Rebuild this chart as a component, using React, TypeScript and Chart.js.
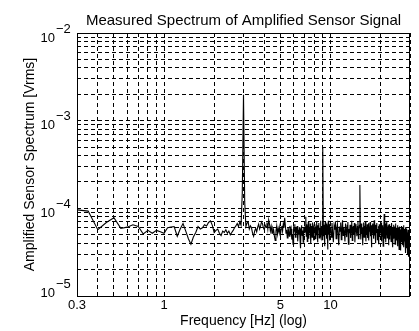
import React, { useEffect, useRef } from "react";
import { Chart, registerables } from "chart.js";

Chart.register(...registerables);

// ---- text ----
const TITLE = "Measured Spectrum of Amplified Sensor Signal";
const X_TITLE = "Frequency [Hz] (log)";
const Y_TITLE = "Amplified Sensor Spectrum [Vrms]";

// ---- axes ----
const X_MIN = 0.3;
const X_MAX = 30;
const Y_MIN = 1e-5;
const Y_MAX = 1e-2;

const xGridValues = [0.3, 0.4, 0.5, 0.6, 0.7, 0.8, 0.9, 1, 2, 3, 4, 5, 6, 7, 8, 9, 10, 20, 30];
const xTickLabelValues = [0.3, 1, 5, 10];
const xTickLabels = ["0.3", "1", "5", "10"];

const yGridValues = [
  1e-5, 2e-5, 3e-5, 4e-5, 5e-5, 6e-5, 7e-5, 8e-5, 9e-5,
  1e-4, 2e-4, 3e-4, 4e-4, 5e-4, 6e-4, 7e-4, 8e-4, 9e-4,
  1e-3, 2e-3, 3e-3, 4e-3, 5e-3, 6e-3, 7e-3, 8e-3, 9e-3,
  1e-2,
];
const yDecadeExponents = [-5, -4, -3, -2];

// ---- spectrum data (values in microvolts rms, FFT bins) ----
const FINE_STEP_HZ = 0.05;
const COARSE_STEP_HZ = 0.1;
const UV = 1e-6;

// 0.30 .. 2.90 Hz
const LOW_START_HZ = 0.3;
const lowBandUv = [
  96, 93, 57, 69, 78, 59, 61, 65, 62, 51, 56, 52, 56, 54, 52,
  60, 61, 62, 48, 58, 67, 55, 45, 39, 47, 53, 62, 58, 60, 65, 63, 69, 72, 64, 53,
  56, 58, 52, 49, 55, 53, 57, 52, 55, 50, 53, 56, 60, 63, 67, 62, 70, 64,
];

// 2.95 .. 3.05 Hz (fundamental)
const PEAK_START_HZ = 2.95;
const peak3HzUv = [150, 1980, 120];

// 3.10 .. 9.95 Hz (includes 9 Hz harmonic)
const MID_START_HZ = 3.1;
const midBandUv = [
  62, 68, 70, 58, 63, 60, 52, 48, 55, 59, 54, 61, 66, 58, 63, 70, 67, 60,
  57, 64, 61, 69, 58, 74, 66, 55, 62, 52, 60, 57, 48, 43, 55, 63, 51, 59, 54, 61,
  50, 58, 63, 55, 66, 60, 78, 64, 52, 57, 46, 61, 55, 48, 63, 53, 58, 44, 51, 39,
  59, 55, 66, 47, 60, 52, 63, 42, 57, 50, 61, 45, 35, 58, 64, 49, 56, 41, 60, 53,
  62, 54, 80, 48, 66, 42, 58, 70, 45, 61, 52, 67, 40, 57, 63, 47, 69, 54, 43, 60,
  56, 66, 45, 62, 50, 71, 53, 41, 64, 57, 68, 46, 60, 52, 72, 48, 63, 55, 44, 66,
  500,
  58, 48, 65, 37, 60, 70, 51, 63, 45, 67, 54, 34, 61, 72, 50, 58, 43, 66, 55,
];

// 10.0 .. 30.0 Hz (includes 15 Hz and 21 Hz harmonics)
const HIGH_START_HZ = 10;
const highBandUv = [
  60, 47, 68, 52, 41, 63, 57, 71, 45, 59,
  66, 50, 38, 62, 55, 69, 44, 58, 73, 49,
  61, 53, 42, 67, 56, 47, 64, 70, 39, 58,
  52, 65, 46, 60, 72, 43, 57, 63, 50, 68,
  41, 59, 66, 54, 48, 62, 70, 45, 57, 64,
  185, 56, 44, 67, 51, 61, 38, 58, 69, 47,
  63, 55, 71, 42, 60, 50, 66, 46, 57, 68,
  43, 62, 54, 70, 48, 59, 36, 64, 52, 67,
  57, 45, 61, 73, 49, 56, 40, 65, 53, 60,
  68, 44, 58, 51, 63, 39, 66, 55, 47, 62,
  54, 69, 42, 60, 48, 64, 57, 37, 61, 50,
  86, 56, 45, 67, 53, 41, 62, 58, 70, 46,
  59, 51, 64, 38, 57, 66, 44, 55, 61, 49,
  63, 42, 56, 68, 47, 53, 60, 36, 58, 65,
  45, 57, 50, 62, 39, 55, 67, 48, 52, 60,
  43, 58, 64, 37, 53, 46, 61, 50, 34, 56,
  62, 44, 51, 57, 33, 59, 48, 63, 41, 54,
  49, 60, 38, 55, 45, 64, 36, 52, 58, 42,
  56, 31, 50, 61, 43, 54, 35, 59, 47, 40,
  53, 30, 57, 44, 49, 28, 55, 38, 46, 51,
  42,
];

function toPoints(startHz: number, stepHz: number, values: number[]) {
  return values.map((v, i) => ({ x: +(startHz + i * stepHz).toFixed(3), y: v * UV }));
}

const FONT = "'Liberation Sans', Arial, Helvetica, sans-serif";

const textPlugin = {
  id: "matlabText",
  afterDraw(chart: any) {
    const { ctx, chartArea: a, scales } = chart;
    const xs = scales.x;
    const ys = scales.y;
    ctx.save();
    ctx.setLineDash([]);
    ctx.strokeStyle = "#000";
    ctx.lineWidth = 1;
    ctx.strokeRect(a.left + 0.5, a.top + 0.5, a.right - a.left - 1, a.bottom - a.top);

    ctx.fillStyle = "#000";
    // title
    ctx.font = `15px ${FONT}`;
    ctx.textAlign = "center";
    ctx.textBaseline = "alphabetic";
    ctx.fillText(TITLE, (a.left + a.right) / 2, 25);

    // x tick labels
    ctx.font = `13px ${FONT}`;
    xTickLabelValues.forEach((v, i) => {
      ctx.fillText(xTickLabels[i], xs.getPixelForValue(v), 309);
    });

    // x title
    ctx.font = `14px ${FONT}`;
    ctx.fillText(X_TITLE, (a.left + a.right) / 2, 325);

    // y tick labels 10^e
    yDecadeExponents.forEach((e) => {
      const py = ys.getPixelForValue(Math.pow(10, e));
      const base = Math.min(py + 8.5, 297);
      ctx.font = `13px ${FONT}`;
      ctx.textAlign = "right";
      ctx.fillText("10", 55, base);
      ctx.font = `13px ${FONT}`;
      ctx.textAlign = "left";
      ctx.fillText("\u2212" + Math.abs(e), 56, base - 9);
    });

    // y title
    ctx.save();
    ctx.translate(34, (a.top + a.bottom) / 2);
    ctx.rotate(-Math.PI / 2);
    ctx.font = `14px ${FONT}`;
    ctx.textAlign = "center";
    ctx.fillText(Y_TITLE, 0, 0);
    ctx.restore();

    ctx.restore();
  },
};

export default function App() {
  const ref = useRef<HTMLCanvasElement | null>(null);

  useEffect(() => {
    document.body.style.margin = "0";
    const canvas = ref.current;
    if (!canvas) return;
    const data = [
      ...toPoints(LOW_START_HZ, FINE_STEP_HZ, lowBandUv),
      ...toPoints(PEAK_START_HZ, FINE_STEP_HZ, peak3HzUv),
      ...toPoints(MID_START_HZ, FINE_STEP_HZ, midBandUv),
      ...toPoints(HIGH_START_HZ, COARSE_STEP_HZ, highBandUv),
    ];
    const gridStyle = { color: "#000", lineWidth: 1, drawTicks: false };
    const chart = new Chart(canvas, {
      type: "line",
      data: {
        datasets: [
          {
            data,
            borderColor: "#000",
            borderWidth: 1.1,
            pointRadius: 0,
            fill: false,
            tension: 0,
          },
        ],
      },
      options: {
        animation: false,
        responsive: false,
        devicePixelRatio: 1,
        layout: { padding: { left: 0, top: 33, right: 9, bottom: 0 } },
        plugins: { legend: { display: false }, tooltip: { enabled: false }, title: { display: false } },
        scales: {
          x: {
            type: "logarithmic",
            min: X_MIN,
            max: X_MAX,
            grid: gridStyle,
            border: { display: false, dash: [4, 3] },
            ticks: { display: false, autoSkip: false },
            afterBuildTicks: (s: any) => {
              s.ticks = xGridValues.map((value) => ({ value }));
            },
            afterFit: (s: any) => {
              s.height = 35;
            },
          },
          y: {
            type: "logarithmic",
            min: Y_MIN,
            max: Y_MAX,
            grid: gridStyle,
            border: { display: false, dash: [4, 3] },
            ticks: { display: false, autoSkip: false },
            afterBuildTicks: (s: any) => {
              s.ticks = yGridValues.map((value) => ({ value }));
            },
            afterFit: (s: any) => {
              s.width = 77;
            },
          },
        },
      },
      plugins: [textPlugin],
    });
    return () => chart.destroy();
  }, []);

  return <canvas ref={ref} width={419} height={331} style={{ display: "block" }} />;
}
